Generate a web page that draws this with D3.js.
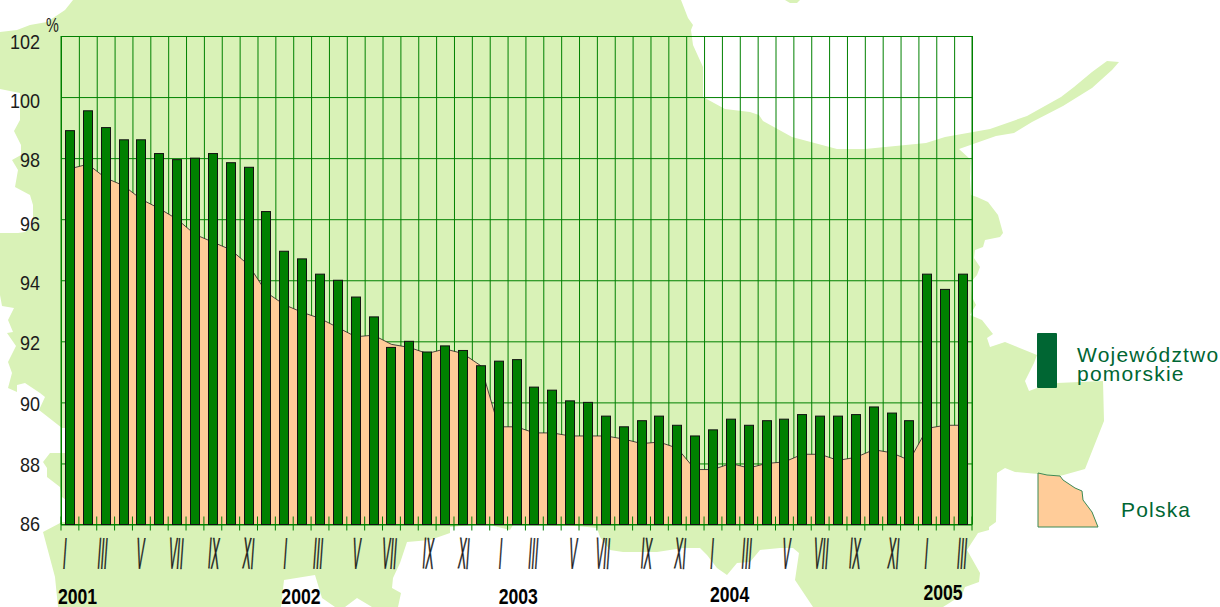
<!DOCTYPE html>
<html><head><meta charset="utf-8">
<script src="https://cdn.jsdelivr.net/npm/d3@7/dist/d3.min.js"></script>
<style>html,body{margin:0;padding:0;background:#fff}svg{display:block}text{font-family:"Liberation Sans",Arial,sans-serif}</style>
</head><body><svg id="c" width="1220" height="607"></svg>
<script>
// --- data ---
const months = ["I","II","III","IV","V","VI","VII","VIII","IX","X","XI","XII"];
const years = ["2001","2002","2003","2004","2005"];
const pomorskie2001 = [98.9,99.55,99.0,98.6,98.6,98.15,97.95,98.0,98.15,97.85,97.7,96.25];
const pomorskie2002 = [94.95,94.7,94.2,94.0,93.45,92.8,91.8,92.0,91.65,91.85,91.7,91.2];
const pomorskie2003 = [91.35,91.4,90.5,90.4,90.05,90.0,89.55,89.2,89.4,89.55,89.25,88.9];
const pomorskie2004 = [89.1,89.45,89.25,89.4,89.45,89.6,89.55,89.55,89.6,89.85,89.65,89.4];
const pomorskie2005 = [94.2,93.7,94.2];
const polska2001 = [97.65,97.8,97.35,97.1,96.65,96.35,96.0,95.5,95.25,95.0,94.5,93.6];
const polska2002 = [93.2,92.95,92.75,92.45,92.15,92.2,91.9,91.8,91.6,91.75,91.6,91.2];
const polska2003 = [89.2,89.2,89.0,89.0,88.9,88.9,88.9,88.8,88.65,88.7,88.5,87.8];
const polska2004 = [87.8,88.0,87.85,88.0,88.05,88.3,88.3,88.1,88.2,88.45,88.35,88.1];
const polska2005 = [89.15,89.25,89.25];
const yTicks = [86,88,90,92,94,96,98,100,102];
const legendNames = ["Województwo","pomorskie","Polska"];

const pomorskie = [...pomorskie2001,...pomorskie2002,...pomorskie2003,...pomorskie2004,...pomorskie2005];
const polska = [...polska2001,...polska2002,...polska2003,...polska2004,...polska2005];
const idx = d3.range(pomorskie.length);

// --- decorative map backdrop (not data) ---
const mapLand = "M73,0L681,0L688,18L693,25L691,30L693,45L703,67L703,97L725,109L750,112L759,115L763,121L792,137L837,149L865,149L926,143L945,137L990,129L1027,116L1061,97L1074,87L1092,72L1107,61L1119,62L1112,70L1092,88L1063,106L1032,122L1014,133L996,136L959,149L971,160L970,178L971,195L977,197L988,202L998,215L1003,233L1000,237L985,240L983,247L975,250L974,258L980,267L977,275L971,282L972,297L976,305L970,315L982,320L993,334L987,338L990,347L1005,342L1037,355L1034,363L1025,381L1029,391L1037,388L1057,383L1103,381L1104,421L1085,469L1060,476L1015,472L1005,468L997,473L996,522L989,527L989,530L978,533L967,550L980,573L979,582L965,587L962,595L943,607L813,607L795,580L799,553L793,548L780,548L760,550L750,562L737,563L727,575L717,568L707,555L700,548L683,548L657,552L623,552L610,550L600,537L597,528L577,526L513,525L510,530L490,525L472,525L450,527L450,533L430,540L407,542L400,563L393,578L392,588L401,593L398,607L372,607L357,598L345,607L335,607L322,598L315,575L284,580L281,607L58,607L55,577L47,547L43,532L62,522L66,522L66,500L62,497L60,487L47,477L47,468L43,462L50,453L66,453L66,428L62,428L39,410L45,397L40,393L25,383L17,385L17,392L8,388L12,373L8,362L16,346L7,333L13,332L8,320L14,308L2,306L0,295L0,233L18,233L25,232L33,225L33,205L30,195L15,187L18,170L12,160L21,155L21,145L14,131L20,120L20,110L20,93L0,89L0,32L17,30L30,25L47,22L65,10Z";
const mapIsland = "M785,0L790,3L797,3L800,0Z";
const legendShape = "M1038,473L1047,475L1060,476L1063,480L1075,488L1082,491L1083,500L1092,512L1098,527L1038,527Z";

// --- scales ---
const plotL = 61, plotR = 972, plotT = 36, plotB = 524.5;
const x = d3.scaleBand().domain(idx).range([plotL,plotR]);
const xEdge = d3.scaleLinear().domain([0,idx.length]).range([plotL,plotR]);
const y = d3.scaleLinear().domain([86,102]).range([plotB,plotT]);
const GREEN = "#008000";

const svg = d3.select("#c");
svg.append("path").attr("d",mapLand).attr("fill","#d9f2b7");
svg.append("path").attr("d",mapIsland).attr("fill","#d9f2b7");

// vertical grid
const edges = d3.range(idx.length+1);
const gx = svg.append("g").attr("transform",`translate(0,${plotB})`)
  .call(d3.axisBottom(xEdge).tickValues(edges).tickSize(-(plotB-plotT)).tickFormat(""));
gx.selectAll("line").attr("stroke",GREEN).attr("stroke-width",1);
gx.select(".domain").remove();

// horizontal grid + y labels
const yLabelNudge = {86:-1,88:1,90:1,92:1,94:2,96:4,98:2,100:4,102:6};
const gy = svg.append("g").attr("transform",`translate(${plotL},0)`)
  .call(d3.axisLeft(y).tickValues(yTicks).tickSize(-(plotR-plotL)).tickPadding(0));
gy.select(".domain").remove();
gy.selectAll("line").attr("stroke",GREEN).attr("stroke-width",1);
gy.selectAll("text")
  .attr("x",0).attr("dy",null).attr("y",0)
  .attr("text-anchor","end").attr("dominant-baseline","central")
  .attr("font-size",20).attr("fill","#1a1a1a").attr("opacity",.99)
  .attr("transform",d=>`translate(-21,${yLabelNudge[d]}) scale(.9,1)`);

// Polska area
const area = d3.area().x(i=>x(i)+x.bandwidth()/2).y0(plotB).y1(i=>y(polska[i]));
const line = d3.line().x(i=>x(i)+x.bandwidth()/2).y(i=>y(polska[i]));
svg.append("path").attr("d",area(idx)).attr("fill","#ffcc99");
svg.append("path").attr("d",line(idx)).attr("fill","none").attr("stroke","#222").attr("stroke-width",.8);

// tick stubs and axis frame
const ticks = svg.append("g").attr("transform",`translate(0,${plotB})`);
ticks.selectAll("line").data(edges).join("line")
  .attr("x1",d=>xEdge(d)).attr("x2",d=>xEdge(d)).attr("y1",-8).attr("y2",6)
  .attr("stroke",GREEN).attr("stroke-width",1);
ticks.append("line").attr("x1",plotL).attr("x2",plotR).attr("stroke",GREEN).attr("stroke-width",1.2);
svg.append("line").attr("x1",plotL).attr("x2",plotL).attr("y1",plotT).attr("y2",plotB).attr("stroke",GREEN);
svg.append("line").attr("x1",plotR).attr("x2",plotR).attr("y1",plotT).attr("y2",plotB).attr("stroke",GREEN);

// pomorskie bars
const barW = 9;
svg.append("g").selectAll("rect").data(idx).join("rect")
  .attr("x",i=>Math.floor(x(i)+x.bandwidth()/2-barW/2)+.5)
  .attr("width",barW)
  .attr("y",i=>y(pomorskie[i]))
  .attr("height",i=>plotB-y(pomorskie[i]))
  .attr("fill",GREEN).attr("stroke","#111").attr("stroke-width",1);

// month labels (every second month, tall and narrow)
const monthNudge = [3,5,7,7,9,8,9,6,9,6,9,9,10,7,11,5,13,11,7,6,10,9,7,10,7,7];
svg.append("g").attr("opacity",.99).selectAll("text").data(idx.filter(i=>i%2===0)).join("text")
  .text(i=>months[i%12])
  .attr("text-anchor","middle").attr("font-size",44).attr("fill","#1a1a1a")
  .attr("stroke","#1a1a1a").attr("stroke-width",.8)
  .attr("transform",(i,k)=>`translate(${x(i)+monthNudge[k]},568.5) rotate(4) scale(.27,1)`);

// year labels
const yearBase = [604,604,604,602,600];
const yearNudge = [-3,6,9,6,5];
svg.append("g").attr("opacity",.99).selectAll("text").data(years).join("text")
  .text(d=>d)
  .attr("font-weight","bold").attr("font-size",22).attr("fill","#000")
  .attr("transform",(d,k)=>`translate(${x(k*12)+yearNudge[k]},${yearBase[k]}) scale(.8,1)`);

// unit
svg.append("text").text("%").attr("font-size",20).attr("fill","#1a1a1a").attr("opacity",.99)
  .attr("transform","translate(46,32) scale(.72,1)");

// legend
const LEG = "#006633";
svg.append("rect").attr("x",1037).attr("y",333).attr("width",20).attr("height",55).attr("rx",1).attr("fill",LEG);
svg.append("path").attr("d",legendShape).attr("fill","#ffcc99").attr("stroke","#3d8a55").attr("stroke-width",1);
[[legendNames[0],1077,362],[legendNames[1],1077,381],[legendNames[2],1121,517]].forEach(([t,tx,ty])=>{
  svg.append("text").text(t).attr("x",tx).attr("y",ty).attr("font-size",21)
    .attr("letter-spacing",1.2).attr("fill",LEG);
});
</script></body></html>
